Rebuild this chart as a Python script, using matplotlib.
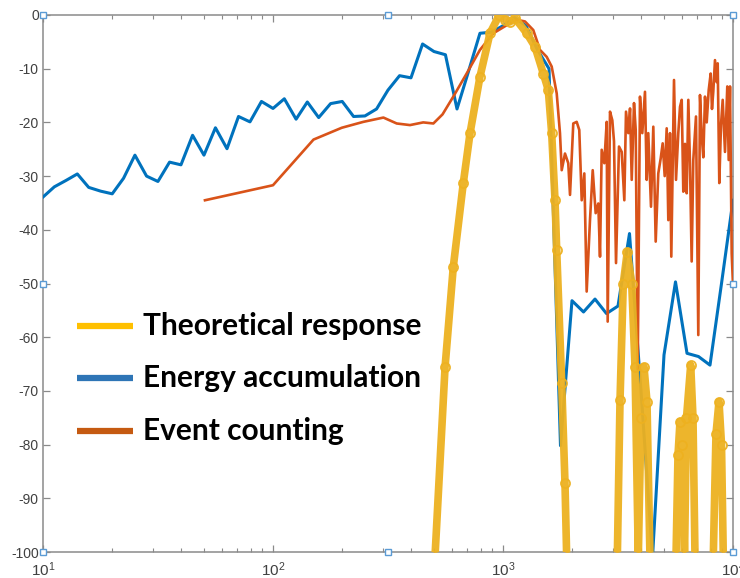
import matplotlib
matplotlib.use("Agg")
import matplotlib.pyplot as plt

# energy accumulation (blue)
freq_energy = [10, 11.2, 12.6, 14.1, 15.8, 17.8, 20.0, 22.4, 25.1, 28.2, 31.6, 35.5, 39.8, 44.7,
               50.1, 56.2, 63.1, 70.8, 79.4, 89.1, 100, 112, 126, 141, 158, 178, 200, 224, 251,
               282, 316, 355, 398, 447, 501, 562, 631, 708, 794, 891, 1000, 1122, 1259, 1413,
               1585, 1778, 1995, 2239, 2512, 2818, 3162, 3548, 3981, 4467, 5012, 5623, 6310,
               7079, 7943, 8913, 10000]
db_energy = [-33.9, -32.0, -30.8, -29.6, -32.1, -32.8, -33.3, -30.4, -26.1, -30.0,
             -31.0, -27.4, -27.9, -22.4, -26.1, -21.0, -24.9, -18.9, -19.9, -16.1,
             -17.4, -15.6, -19.4, -16.2, -19.1, -16.5, -16.1, -18.9, -18.8, -17.5,
             -14.0, -11.3, -11.7, -5.4, -6.8, -7.4, -17.5, -10.5, -3.4, -3.2,
             -2.0, -0.5, -2.0, -6.5, -10.0, -80.2, -53.2, -55.3, -52.9, -55.6,
             -54.2, -40.7, -70.0, -101.0, -63.3, -49.7, -63.0, -63.6, -65.2, -50.0,
             -34.5]

# event counting (orange)
freq_event = [50.6, 100, 150, 199, 247, 302, 345, 394, 450, 498, 546, 608, 695, 794, 908, 1038,
              1147, 1246, 1354, 1448, 1549, 1628, 1712, 1769, 1800, 1860, 1922, 1956, 2021,
              2091, 2146, 2199, 2257, 2311, 2389, 2455, 2529, 2596, 2641, 2686, 2757, 2824,
              2852, 2919, 2987, 3038, 3100, 3194, 3282, 3369, 3426, 3506, 3567, 3628, 3712,
              3776, 3852, 3941, 4033, 4143, 4214, 4282, 4400, 4503, 4612, 4733, 4849, 4946,
              5047, 5149, 5233, 5322, 5392, 5540, 5652, 5783, 5883, 5984, 6080, 6184, 6291,
              6393, 6501, 6612, 6720, 6904, 7065, 7186, 7310, 7429, 7556, 7686, 7840, 7998,
              8103, 8208, 8350, 8493, 8580, 8718, 8867, 9020, 9230, 9445, 9579, 9705, 9870,
              10000]
db_event = [-34.5, -31.7, -23.2, -21.0, -19.9, -19.1, -20.2, -20.5, -20.0, -20.2,
            -18.5, -15.2, -10.9, -6.5, -3.4, -1.9, -0.9, -1.2, -2.8, -6.5,
            -7.8, -9.6, -14.6, -22.0, -28.9, -25.8, -27.6, -33.5, -20.2, -19.9,
            -21.4, -34.5, -29.5, -51.5, -38.2, -28.9, -36.9, -35.1, -45.0, -25.1,
            -27.6, -19.9, -57.1, -18.0, -19.6, -23.5, -46.2, -24.5, -25.5, -34.5,
            -18.0, -22.0, -17.4, -30.7, -16.4, -21.4, -66.0, -15.2, -22.0, -14.3,
            -30.7, -22.0, -35.7, -20.8, -42.2, -29.5, -26.7, -23.9, -30.0, -21.1,
            -38.2, -22.0, -45.0, -12.1, -30.7, -22.0, -17.1, -15.8, -32.9, -24.0,
            -33.2, -15.8, -27.6, -45.9, -27.0, -18.9, -59.6, -14.9, -22.5, -26.5,
            -15.2, -20.0, -14.0, -10.9, -17.5, -14.3, -8.4, -12.5, -9.0, -31.3,
            -20.5, -15.8, -25.5, -13.3, -27.0, -13.3, -44.4, -50.3]

# theoretical response (yellow circles)
freq_theory = [506, 560, 608, 672, 719, 794, 878, 964, 1020, 1070, 1128, 1268, 1377, 1497, 1574,
               1628, 1683, 1712, 1800, 1860, 1892,
               3141, 3227, 3334, 3470, 3628, 3749, 3875,
               3981, 4102, 4227, 4355,
               5652, 5766, 5883, 6031, 6153, 6278, 6548, 6700, 6836,
               8208, 8435, 8692, 8913, 9075]
db_theory = [-101, -65.5, -46.9, -31.3, -22.0, -11.5, -3.4, 0.0, -0.9, -1.3, -0.6, -3.4, -5.9,
             -10.9, -14.0, -22.0, -34.5, -43.8, -68.6, -87.2, -101,
             -101, -71.7, -50.0, -44.1, -50.0, -65.5, -101,
             -75.0, -65.5, -72.0, -101,
             -101, -82.0, -75.7, -80.0, -101, -75.0, -65.2, -75.0, -101,
             -101, -78.0, -72.0, -80.0, -101]

y_ticks = list(range(-100, 1, 10))
x_ticks = [10, 100, 1000, 10000]
x_labels = ['$10^{1}$', '$10^{2}$', '$10^{3}$', '$10^{4}$']

legend_names = ['Theoretical response', 'Energy accumulation', 'Event counting']
legend_colors = ['#FFC000', '#2E75B6', '#C55A11']

plt.rcParams['font.family'] = ['Liberation Sans', 'DejaVu Sans']
plt.rcParams['mathtext.fontset'] = 'custom'
plt.rcParams['mathtext.rm'] = 'Liberation Sans'
plt.rcParams['mathtext.it'] = 'Liberation Sans'

fig = plt.figure(figsize=(7.4, 5.78), dpi=100)
ax = fig.add_axes([43 / 740, 26 / 578, 690 / 740, 537 / 578])

ax.plot(freq_energy, db_energy, color='#0072BD', lw=2.2, zorder=3)
ax.plot(freq_event, db_event, color='#D95319', lw=1.9, zorder=3.2)
ax.plot(freq_theory, db_theory, color='#EDB120', lw=5.5, zorder=3.4, alpha=0.95,
        marker='o', ms=6.5, mfc='none', mec='#EDB120', mew=1.3, solid_joinstyle='round')

ax.set_xscale('log')
ax.set_xlim(10, 10000)
ax.set_ylim(-100, 0)
ax.set_yticks(y_ticks)
ax.set_yticklabels([str(v) for v in y_ticks])
ax.set_xticks(x_ticks)
ax.set_xticklabels(x_labels)

for s in ax.spines.values():
    s.set_color('#8a8a8a')
    s.set_linewidth(1.1)
ax.tick_params(which='both', direction='in', top=True, right=True, color='#8a8a8a')
ax.tick_params(which='major', length=5, width=0.9)
ax.tick_params(which='minor', length=3, width=0.8)
ax.tick_params(axis='y', labelsize=10, labelcolor='#404040', pad=3)
ax.tick_params(axis='x', labelsize=11, labelcolor='#404040', pad=6)

# selection handles left on the axes box
hx = [0, 0.5, 1, 1, 1, 0.5, 0, 0]
hy = [1, 1, 1, 0.5, 0, 0, 0, 0.5]
ax.plot(hx, hy, transform=ax.transAxes, ls='none', marker='s', ms=4,
        mfc='white', mec='#5B9BD5', mew=1, clip_on=False, zorder=10)

# hand made legend
line_y = [326, 378, 431]
text_y = [335, 387, 440]
for name, col, ly, ty in zip(legend_names, legend_colors, line_y, text_y):
    fig.add_artist(plt.Line2D([77 / 740, 133 / 740], [1 - ly / 578, 1 - ly / 578],
                              color=col, lw=4.5, solid_capstyle='butt'))
    fig.text(143 / 740, 1 - ty / 578, name, fontsize=21.5, fontweight='bold',
             family=['Lato', 'DejaVu Sans'], va='baseline', ha='left', color='black')

fig.savefig('out.png', dpi=100)
